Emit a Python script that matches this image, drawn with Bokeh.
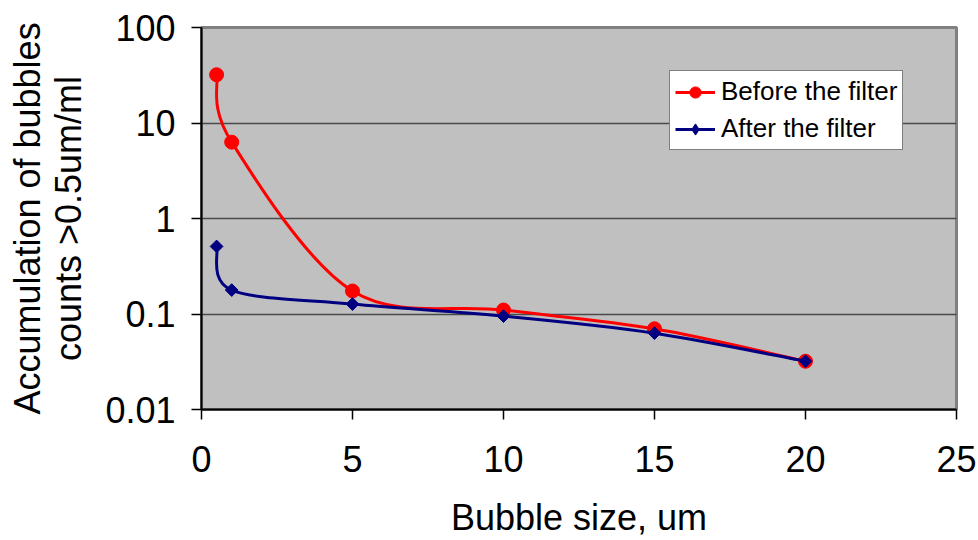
import numpy as np
from bokeh.plotting import figure
from bokeh.models import Range1d, FixedTicker, Legend, LegendItem
from bokeh.embed import file_html
from bokeh.resources import INLINE

# ---- data ----
bubble_size = [0.5, 1, 5, 10, 15, 20]
before_filter = [32, 6.3, 0.174, 0.11, 0.07, 0.032]
after_filter = [0.51, 0.178, 0.127, 0.095, 0.063, 0.032]
x_ticks = [0, 5, 10, 15, 20, 25]
y_ticks = [0.01, 0.1, 1, 10, 100]
y_tick_labels = ["0.01", "0.1", "1", "10", "100"]
series_names = ["Before the filter", "After the filter"]

FONT = "Liberation Sans"

p = figure(width=978, height=540, y_axis_type="log",
           x_range=Range1d(0, 25), y_range=Range1d(0.01, 100),
           output_backend="svg", toolbar_location=None,
           min_border_left=201, min_border_right=22,
           min_border_top=27, min_border_bottom=130,
           background_fill_color="#C0C0C0", border_fill_color="white")

p.outline_line_color = "#808080"
p.outline_line_width = 3

# axes
p.xaxis.ticker = FixedTicker(ticks=x_ticks)
p.yaxis.ticker = FixedTicker(ticks=y_ticks, minor_ticks=[])
p.yaxis.major_label_overrides = {t: l for t, l in zip(y_ticks, y_tick_labels)}
for ax in (p.xaxis, p.yaxis):
    ax.axis_line_color = "black"
    ax.axis_line_width = 2
    ax.major_tick_line_color = "black"
    ax.major_tick_line_width = 1.5
    ax.major_tick_out = 10
    ax.major_tick_in = 0
    ax.minor_tick_line_color = None
    ax.major_label_text_font = FONT
    ax.major_label_text_font_size = "36px"
    ax.major_label_text_color = "black"
    ax.axis_label_text_font = FONT
    ax.axis_label_text_font_size = "36px"
    ax.axis_label_text_font_style = "normal"
    ax.axis_label_text_color = "black"
p.xaxis.major_label_standoff = 26
p.yaxis.major_label_standoff = 16
p.xaxis.axis_label = "Bubble size, um"
p.xaxis.axis_label_standoff = 22
p.yaxis.axis_label = "Accumulation of bubbles\ncounts >0.5um/ml"
p.yaxis.axis_label_standoff = 13
p.yaxis.axis_label_text_line_height = 1.0

p.xgrid.grid_line_color = None
p.ygrid.grid_line_color = "#4a4a4a"
p.ygrid.grid_line_width = 1.5


def smooth_segments(xs, ys):
    """Bezier control points (Catmull-Rom style, like a spreadsheet's smoothed line)
    computed in (x, log10 y) space, which maps linearly to screen."""
    X = np.array(xs, float)
    L = np.log10(np.array(ys, float))
    n = len(X)
    seg = dict(x0=[], y0=[], x1=[], y1=[], cx0=[], cy0=[], cx1=[], cy1=[])
    for i in range(n - 1):
        i0 = max(i - 1, 0)
        i3 = min(i + 2, n - 1)
        c0x = X[i] + (X[i + 1] - X[i0]) / 6
        c0l = L[i] + (L[i + 1] - L[i0]) / 6
        c1x = X[i + 1] - (X[i3] - X[i]) / 6
        c1l = L[i + 1] - (L[i3] - L[i]) / 6
        seg["x0"].append(X[i]); seg["y0"].append(10 ** L[i])
        seg["x1"].append(X[i + 1]); seg["y1"].append(10 ** L[i + 1])
        seg["cx0"].append(c0x); seg["cy0"].append(10 ** c0l)
        seg["cx1"].append(c1x); seg["cy1"].append(10 ** c1l)
    return seg


styles = [
    (before_filter, "#FF0000", "circle", 14, 0, "circle", 14, series_names[0]),
    (after_filter, "#000080", "square", 9, np.pi / 4, "diamond", 15, series_names[1]),
]

leg_items = []
for ys, color, marker, size, angle, leg_marker, leg_size, name in styles:
    s = smooth_segments(bubble_size, ys)
    p.bezier(x0=s["x0"], y0=s["y0"], x1=s["x1"], y1=s["y1"],
             cx0=s["cx0"], cy0=s["cy0"], cx1=s["cx1"], cy1=s["cy1"],
             line_color=color, line_width=3)
    p.scatter(bubble_size, ys, marker=marker, size=size, angle=angle,
              fill_color=color, line_color=color)
    # legend proxies (line + marker)
    l2 = p.line([np.nan], [np.nan], line_color=color, line_width=3)
    s2 = p.scatter([np.nan], [np.nan], marker=leg_marker, size=leg_size,
                   fill_color=color, line_color=color)
    leg_items.append(LegendItem(label=name, renderers=[l2, s2]))

legend = Legend(items=leg_items, location=(468, 259),
                label_text_font=FONT, label_text_font_size="26px",
                label_text_color="black",
                glyph_width=40, glyph_height=28, label_height=28,
                label_standoff=6, spacing=6, padding=5, margin=0,
                border_line_color="black", border_line_width=1.5,
                background_fill_color="white", background_fill_alpha=1)
p.add_layout(legend)

open("out.html", "w").write(file_html(p, INLINE))
